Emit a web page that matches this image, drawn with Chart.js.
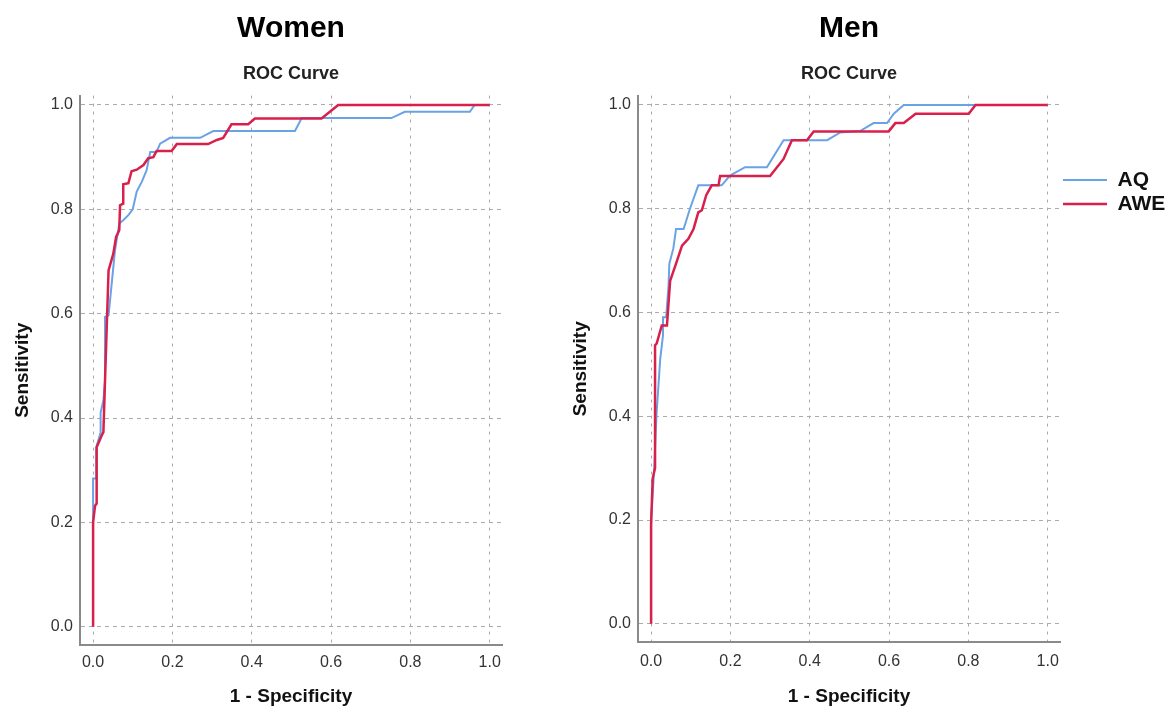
<!DOCTYPE html>
<html>
<head>
<meta charset="utf-8">
<title>ROC Curve</title>
<script src="https://cdn.jsdelivr.net/npm/chart.js@4.4.1/dist/chart.umd.min.js"></script>
<style>
  html, body { margin: 0; padding: 0; background: #fff; }
  .box { position: absolute; top: 0; }
</style>
</head>
<body>
<div class="box" style="left:0px"><canvas id="womenChart" width="520" height="709"></canvas></div>
<div class="box" style="left:560px"><canvas id="menChart" width="613" height="709"></canvas></div>
<script>
// values (1 - specificity, sensitivity)
var tickValues = [0, 0.2, 0.4, 0.6, 0.8, 1.0];

var womenAqX  = [0, 0, 0.008, 0.008, 0.018, 0.019, 0.026, 0.030, 0.030, 0.039, 0.047, 0.055, 0.066, 0.076, 0.089, 0.100, 0.110, 0.123, 0.135, 0.144, 0.160, 0.169, 0.194, 0.270, 0.303, 0.509, 0.526, 0.752, 0.786, 0.950, 0.962, 1.0];
var womenAqY  = [0, 0.284, 0.284, 0.344, 0.370, 0.410, 0.434, 0.470, 0.594, 0.597, 0.658, 0.720, 0.773, 0.779, 0.789, 0.800, 0.834, 0.853, 0.875, 0.910, 0.910, 0.926, 0.937, 0.937, 0.950, 0.950, 0.975, 0.975, 0.987, 0.987, 1.0, 1.0];
var womenAweX = [0, 0, 0.005, 0.009, 0.009, 0.022, 0.026, 0.030, 0.039, 0.051, 0.058, 0.066, 0.068, 0.076, 0.076, 0.089, 0.097, 0.110, 0.127, 0.139, 0.152, 0.160, 0.198, 0.211, 0.290, 0.312, 0.328, 0.349, 0.391, 0.408, 0.576, 0.618, 1.0];
var womenAweY = [0, 0.200, 0.232, 0.236, 0.344, 0.367, 0.373, 0.470, 0.683, 0.715, 0.747, 0.760, 0.808, 0.811, 0.848, 0.850, 0.873, 0.876, 0.885, 0.898, 0.900, 0.912, 0.912, 0.925, 0.925, 0.933, 0.937, 0.963, 0.963, 0.974, 0.974, 1.0, 1.0];

var menAqX  = [0, 0, 0.008, 0.010, 0.014, 0.018, 0.023, 0.030, 0.030, 0.038, 0.044, 0.046, 0.056, 0.063, 0.082, 0.098, 0.119, 0.178, 0.199, 0.237, 0.292, 0.334, 0.444, 0.477, 0.528, 0.561, 0.595, 0.612, 0.637, 1.0];
var menAqY  = [0, 0.200, 0.300, 0.340, 0.408, 0.453, 0.510, 0.556, 0.591, 0.591, 0.652, 0.694, 0.723, 0.761, 0.761, 0.800, 0.845, 0.845, 0.864, 0.880, 0.880, 0.932, 0.932, 0.947, 0.950, 0.965, 0.965, 0.983, 1.0, 1.0];
var menAweX = [0, 0, 0.004, 0.010, 0.010, 0.014, 0.027, 0.040, 0.048, 0.061, 0.078, 0.094, 0.107, 0.119, 0.128, 0.139, 0.153, 0.170, 0.174, 0.300, 0.334, 0.355, 0.393, 0.410, 0.599, 0.616, 0.637, 0.667, 0.801, 0.818, 1.0];
var menAweY = [0, 0.190, 0.280, 0.300, 0.537, 0.540, 0.575, 0.575, 0.661, 0.690, 0.729, 0.742, 0.761, 0.793, 0.797, 0.826, 0.845, 0.845, 0.863, 0.863, 0.896, 0.932, 0.932, 0.949, 0.949, 0.965, 0.965, 0.983, 0.983, 1.0, 1.0];

var seriesNames = ['AQ', 'AWE'];
var seriesColors = ['#69a3e6', '#d91f4b'];

var FONT = "'Liberation Sans', Arial, sans-serif";
Chart.defaults.font.family = FONT;

function points(xs, ys) {
    return xs.map(function (x, i) { return { x: x, y: ys[i] }; });
}

function setTicks(scale) {
    scale.ticks = tickValues.map(function (v) { return { value: v }; });
}

// keeps the legend box at a fixed width so the plot area lines up
var fixLegendWidth = {
    id: 'fixLegendWidth',
    beforeLayout: function (chart) {
        var lg = chart.legend;
        if (lg && !lg._fixed) {
            var fit = lg.fit;
            lg.fit = function () { fit.call(this); this.width = 110; };
            lg._fixed = true;
        }
    }
};

function makeChart(id, title, aq, awe, opt) {
    return new Chart(document.getElementById(id), {
        type: 'line',
        data: {
            datasets: [{
                label: seriesNames[0],
                data: aq,
                borderColor: seriesColors[0],
                backgroundColor: seriesColors[0],
                borderWidth: 2,
                pointRadius: 0,
                tension: 0,
                order: 1
            }, {
                label: seriesNames[1],
                data: awe,
                borderColor: seriesColors[1],
                backgroundColor: seriesColors[1],
                borderWidth: 2.5,
                pointRadius: 0,
                tension: 0,
                order: 0   // red drawn on top
            }]
        },
        options: {
            responsive: false,
            animation: false,
            events: [],
            layout: { padding: { left: 0, right: opt.padRight, top: 0, bottom: 0 } },
            scales: {
                x: {
                    type: 'linear',
                    min: -0.033,
                    max: 1.031,
                    afterBuildTicks: setTicks,
                    afterFit: function (s) { s.height = opt.xHeight; },
                    ticks: {
                        callback: function (v) { return v.toFixed(1); },
                        font: { size: 16 },
                        color: '#333',
                        padding: opt.xPad
                    },
                    grid: { color: '#ababab', lineWidth: 1, drawTicks: false },
                    border: { display: true, color: '#8a8a8a', width: 2, dash: [3, 5] },
                    title: {
                        display: true,
                        text: '1 - Specificity',
                        font: { size: 19, weight: 'bold' },
                        color: '#111',
                        padding: { top: 0, bottom: 1 }
                    }
                },
                y: {
                    type: 'linear',
                    min: -0.035,
                    max: 1.018,
                    afterBuildTicks: setTicks,
                    afterFit: function (s) { s.width = opt.yWidth; },
                    ticks: {
                        callback: function (v) { return v.toFixed(1); },
                        font: { size: 16 },
                        color: '#333',
                        padding: 7
                    },
                    grid: { color: '#ababab', lineWidth: 1, drawTicks: false },
                    border: { display: true, color: '#8a8a8a', width: 2, dash: [4, 4] },
                    title: {
                        display: true,
                        text: 'Sensitivity',
                        font: { size: 19, weight: 'bold' },
                        color: '#111',
                        padding: { top: opt.yTitlePad, bottom: 0 }
                    }
                }
            },
            plugins: {
                title: {
                    display: true,
                    text: title,
                    fullSize: false,
                    font: { size: 30, weight: 'bold' },
                    color: '#000',
                    padding: { top: 11, bottom: 0 }
                },
                subtitle: {
                    display: true,
                    text: 'ROC Curve',
                    fullSize: false,
                    font: { size: 18, weight: 'bold' },
                    color: '#222',
                    padding: { top: 16, bottom: 11 }
                },
                legend: {
                    display: opt.legend,
                    position: 'right',
                    align: 'start',
                    fullSize: true,
                    title: { display: true, text: ' ', font: { size: 10 }, padding: { top: 154.5, bottom: 0 } },
                    labels: {
                        boxWidth: 44,
                        boxHeight: 0,
                        padding: 3,
                        color: '#111',
                        font: { size: 21, weight: 'bold' },
                        sort: function (a, b) { return a.datasetIndex - b.datasetIndex; }
                    }
                },
                tooltip: { enabled: false }
            }
        },
        plugins: opt.legend ? [fixLegendWidth] : []
    });
}

var women = makeChart('womenChart', 'Women',
    points(womenAqX, womenAqY), points(womenAweX, womenAweY),
    { padRight: 18, xHeight: 64, xPad: 8, yWidth: 80, yTitlePad: 11, legend: false });

var men = makeChart('menChart', 'Men',
    points(menAqX, menAqY), points(menAweX, menAweY),
    { padRight: 3, xHeight: 67, xPad: 10, yWidth: 78, yTitlePad: 9, legend: true });
</script>
</body>
</html>
